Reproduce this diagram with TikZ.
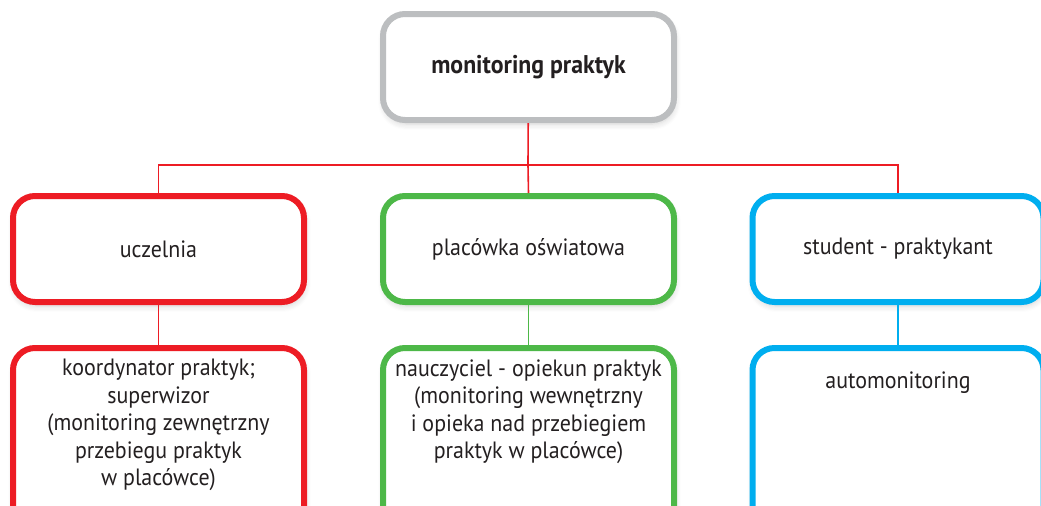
\documentclass[tikz,border=0pt]{standalone}
\usepackage{fontspec}
\setmainfont{PT Sans}[FakeStretch=0.93]
\usepackage{xcolor}
\usetikzlibrary{positioning,shadows.blur}

\definecolor{boxgray}{HTML}{BCBEC0}
\definecolor{boxred}{HTML}{ED1C24}
\definecolor{boxgreen}{HTML}{4DB848}
\definecolor{boxblue}{HTML}{00AEEF}
\definecolor{textdark}{HTML}{231F20}

\begin{document}
\begin{tikzpicture}[x=0.5pt, y=-0.5pt,
    box/.style={draw, line width=3pt, rounded corners=11pt, fill=white,
        minimum width=145.5pt, minimum height=53pt, inner sep=0pt,
        blur shadow={shadow xshift=0.5pt, shadow yshift=-2pt, shadow blur steps=6, shadow blur radius=3pt, shadow opacity=18},
        text=textdark, font=\fontsize{11.8}{13.75}\selectfont},
    lowbox/.style={box, minimum height=95pt, anchor=north},
    lowtext/.style={align=center, inner sep=0pt, text=textdark,
        font=\fontsize{11.8}{13.75}\selectfont},
    conn/.style={line width=0.8pt}]
    \useasboundingbox (0,0) rectangle (1041,505);
    \clip (0,0) rectangle (1041,505);

    % Top box
    \node[box, draw=boxgray, font=\bfseries\fontsize{12.8}{14}\selectfont] (monit) at (528.5,67) {monitoring praktyk};
    \coordinate (split) at (528,165);

    % Second row
    \node[box, draw=boxred] (uczel) at (158.5,249) {uczelnia};
    \node[box, draw=boxgreen] (placow) at (528.5,249) {placówka oświatowa};
    \node[box, draw=boxblue] (stud) at (898,249) {student - praktykant};

    % Third row
    \node[lowbox, draw=boxred] (koordbox) at (158.5,345) {};
    \node[lowtext, below=7pt of koordbox.north] (koord) {koordynator praktyk;\\ superwizor\\ (monitoring zewnętrzny\\ przebiegu praktyk\\ w placówce)};
    \node[lowbox, draw=boxgreen] (nauczbox) at (528.5,345) {};
    \node[lowtext, below=7pt of nauczbox.north] (naucz) {nauczyciel - opiekun praktyk\\ (monitoring wewnętrzny\\ i opieka nad przebiegiem\\ praktyk w placówce)};
    \node[lowbox, draw=boxblue] (autobox) at (898,345) {};
    \node[lowtext, below=13pt of autobox.north] (auto) {automonitoring};

    % Connectors
    \draw[conn, boxred] (monit) -- (split);
    \draw[conn, boxred] (uczel.north) |- (split) -| (stud.north);
    \draw[conn, boxred] (split) -- (placow.north);
    \draw[conn, boxred] (uczel) -- (koordbox);
    \draw[conn, boxgreen] (placow) -- (nauczbox);
    \draw[conn, boxblue] (stud) -- (autobox);
\end{tikzpicture}
\end{document}
